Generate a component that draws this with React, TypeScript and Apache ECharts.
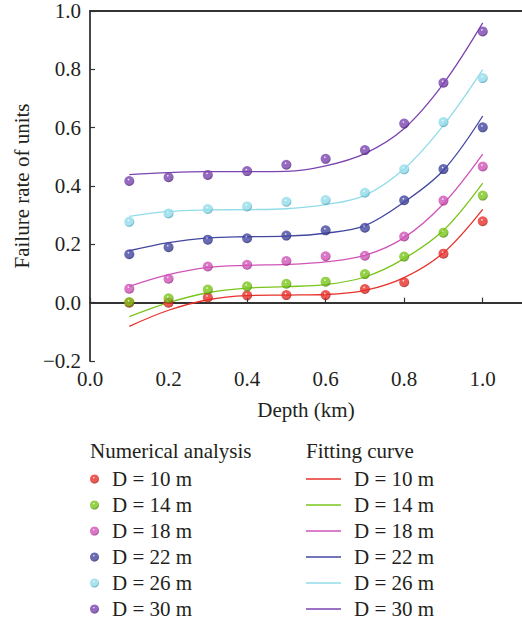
import React, { useEffect, useRef } from "react";
import * as echarts from "echarts";

const depths = [0.1, 0.2, 0.3, 0.4, 0.5, 0.6, 0.7, 0.8, 0.9, 1.0];
const seriesNames = ["D = 10 m", "D = 14 m", "D = 18 m", "D = 22 m", "D = 26 m", "D = 30 m"];
const colors = ["#e8302a", "#7ac51b", "#d055b8", "#4347a0", "#92dcea", "#7b44b0"];
const darkColors = ["#b01a15", "#4f8a0c", "#9c2e85", "#262873", "#56aabd", "#4e2478"];

// Numerical analysis (points)
const num10 = [0.0, 0.0, 0.018, 0.025, 0.026, 0.026, 0.047, 0.07, 0.168, 0.279];
const num14 = [0.002, 0.015, 0.045, 0.056, 0.065, 0.072, 0.098, 0.158, 0.24, 0.367];
const num18 = [0.048, 0.082, 0.124, 0.13, 0.143, 0.159, 0.161, 0.227, 0.35, 0.467];
const num22 = [0.166, 0.19, 0.216, 0.221, 0.23, 0.248, 0.257, 0.351, 0.458, 0.601];
const num26 = [0.277, 0.306, 0.321, 0.33, 0.346, 0.352, 0.377, 0.457, 0.619, 0.77];
const num30 = [0.417, 0.43, 0.438, 0.451, 0.473, 0.493, 0.523, 0.614, 0.754, 0.93];

// Fitting curves
const fit10 = [-0.081, -0.026, 0.01, 0.024, 0.026, 0.028, 0.042, 0.086, 0.171, 0.32];
const fit14 = [-0.048, 0.0, 0.034, 0.05, 0.055, 0.062, 0.088, 0.151, 0.248, 0.41];
const fit18 = [0.056, 0.096, 0.121, 0.128, 0.131, 0.14, 0.162, 0.223, 0.339, 0.509];
const fit22 = [0.178, 0.206, 0.222, 0.226, 0.228, 0.238, 0.264, 0.345, 0.454, 0.64];
const fit26 = [0.296, 0.313, 0.318, 0.319, 0.322, 0.336, 0.368, 0.459, 0.608, 0.799];
const fit30 = [0.439, 0.446, 0.449, 0.449, 0.45, 0.469, 0.511, 0.597, 0.751, 0.959];

const numData = [num10, num14, num18, num22, num26, num30];
const fitData = [fit10, fit14, fit18, fit22, fit26, fit30];

const FONT = "'Liberation Serif', 'Times New Roman', 'DejaVu Serif', serif";
const FIT_PREFIX = "Fitting ";
const TXT = "#231f20";
const FS = 21;

export default function App() {
  const ref = useRef<HTMLDivElement>(null);
  useEffect(() => {
    if (!ref.current) return;
    const chart = echarts.init(ref.current, null, { renderer: "svg" });
    const sphere = (i: number) =>
      new echarts.graphic.RadialGradient(0.42, 0.35, 0.6, [
        { offset: 0, color: "#ffffff" },
        { offset: 0.22, color: colors[i] },
        { offset: 0.75, color: colors[i] },
        { offset: 1, color: darkColors[i] },
      ]);
    const lineSeries = fitData.map((d, i) => ({
      type: "line",
      name: FIT_PREFIX + seriesNames[i],
      data: depths.map((x, j) => [x, d[j]]),
      smooth: 0.35,
      symbol: "none",
      lineStyle: { color: colors[i], width: 1.3 },
      itemStyle: { color: colors[i] },
      z: 2,
    }));
    const scatterSeries = numData.map((d, i) => ({
      type: "scatter",
      name: seriesNames[i],
      data: depths.map((x, j) => [x, d[j]]),
      symbol: "circle",
      symbolSize: 10,
      itemStyle: { color: sphere(i) },
      z: 3,
    }));
    const fmt = (v: number) => {
      const s = Math.abs(v).toFixed(1);
      return v < -1e-9 ? "\u2212" + s : s;
    };
    chart.setOption({
      animation: false,
      textStyle: { fontFamily: FONT },
      grid: { left: 90, right: 0, top: 11, bottom: 263 },
      xAxis: [
        {
          type: "value",
          min: 0,
          max: 1.1,
          interval: 0.2,
          name: "Depth (km)",
          nameLocation: "middle",
          nameGap: 38,
          nameTextStyle: { fontFamily: FONT, fontSize: FS, color: TXT },
          axisLine: { show: true, lineStyle: { color: "#333", width: 1.8 } },
          axisTick: { show: true, inside: true, length: 5, lineStyle: { color: "#333", width: 1.2 } },
          axisLabel: {
            fontFamily: FONT,
            fontSize: FS,
            color: TXT,
            margin: 7,
            showMaxLabel: false,
            formatter: (v: number) => (v > 1.05 ? "" : fmt(v)),
          },
          splitLine: { show: false },
        },
        {
          type: "value",
          position: "top",
          min: 0,
          max: 1.1,
          axisLine: { show: true, lineStyle: { color: "#333", width: 1.8 } },
          axisTick: { show: false },
          axisLabel: { show: false },
          splitLine: { show: false },
        },
      ],
      yAxis: {
        type: "value",
        min: -0.2,
        max: 1.0,
        interval: 0.2,
        name: "Failure rate of units",
        nameLocation: "middle",
        nameGap: 58,
        nameTextStyle: { fontFamily: FONT, fontSize: FS, color: TXT },
        axisLine: { show: true, lineStyle: { color: "#333", width: 1.8 } },
        axisTick: { show: true, inside: true, length: 5, lineStyle: { color: "#333", width: 1.2 } },
        axisLabel: {
          fontFamily: FONT,
          fontSize: FS,
          color: TXT,
          margin: 9,
          formatter: (v: number) => fmt(v),
        },
        splitLine: { show: false },
      },
      legend: [
        {
          orient: "vertical",
          left: 90,
          top: 468,
          padding: 0,
          itemGap: 4,
          itemWidth: 9,
          itemHeight: 9,
          icon: "circle",
          selectedMode: false,
          data: seriesNames.map((n, i) => ({ name: n, itemStyle: { color: sphere(i) } })),
          textStyle: { fontFamily: FONT, fontSize: FS, color: TXT, lineHeight: 22, padding: [0, 0, 0, 8] },
        },
        {
          orient: "vertical",
          left: 306,
          top: 468,
          padding: 0,
          itemGap: 4,
          itemWidth: 35,
          itemHeight: 1.5,
          icon: "rect",
          selectedMode: false,
          data: seriesNames.map((n, i) => ({ name: FIT_PREFIX + n, itemStyle: { color: colors[i] } })),
          formatter: (name: string) => name.replace(FIT_PREFIX, ""),
          textStyle: { fontFamily: FONT, fontSize: FS, color: TXT, lineHeight: 22, padding: [0, 0, 0, 8] },
        },
      ],
      graphic: [
        {
          type: "text",
          left: 90,
          top: 440,
          style: { text: "Numerical analysis", fontFamily: FONT, fontSize: FS, fill: TXT },
        },
        {
          type: "text",
          left: 306,
          top: 440,
          style: { text: "Fitting curve", fontFamily: FONT, fontSize: FS, fill: TXT },
        },
      ],
      series: [...lineSeries, ...scatterSeries],
    });
    return () => chart.dispose();
  }, []);
  return <div ref={ref} style={{ width: 522, height: 624, position: "absolute", left: 0, top: 0 }} />;
}
